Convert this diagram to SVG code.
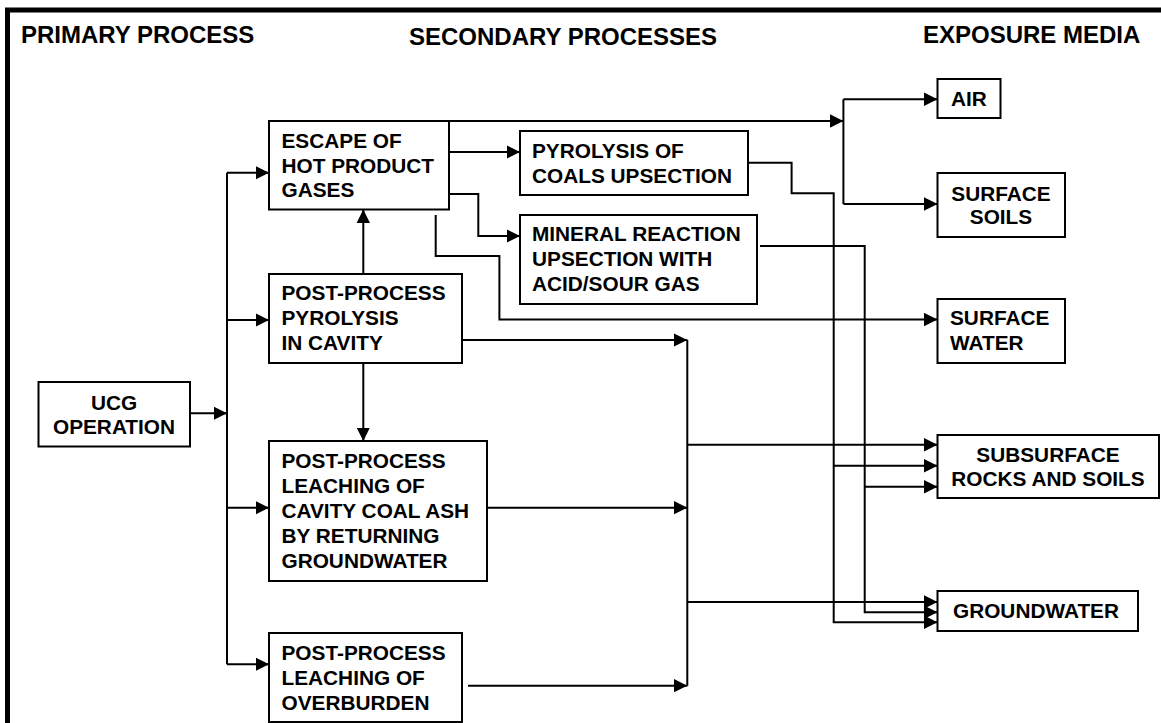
<svg xmlns="http://www.w3.org/2000/svg" width="1161" height="723" viewBox="0 0 1161 723">
<style>
.box{fill:#fff;stroke:#000;stroke-width:2}
.t{font-family:"Liberation Sans",Arial,sans-serif;font-weight:bold;font-size:20.8px;fill:#000}
.h{font-family:"Liberation Sans",Arial,sans-serif;font-weight:bold;font-size:24px;fill:#000}
.c{text-anchor:middle}
.ln{fill:none;stroke:#000;stroke-width:2}
.ar{fill:none;stroke:#000;stroke-width:2;marker-end:url(#ah)}
</style>
<defs>
<marker id="ah" markerUnits="userSpaceOnUse" markerWidth="14" markerHeight="14" refX="13.5" refY="7" orient="auto">
<path d="M0,0.3 L13.5,7 L0,13.7 z" fill="#000"/>
</marker>
</defs>
<rect width="1161" height="723" fill="#fff"/>
<path d="M7.5,723 V10 H1161" fill="none" stroke="#000" stroke-width="5"/>
<g id="titles">
<text class="h" x="21" y="43.3">PRIMARY PROCESS</text>
<text class="h" x="409" y="45">SECONDARY PROCESSES</text>
<text class="h" x="923" y="43">EXPOSURE MEDIA</text>
</g>
<g id="connectors">
<path class="ar" d="M184,413.3 H227"/>
<path class="ln" d="M227,172.7 V664.3"/>
<path class="ar" d="M227,172.7 H269"/>
<path class="ar" d="M227,320 H269"/>
<path class="ar" d="M227,507.7 H269"/>
<path class="ar" d="M227,664.3 H269"/>
<path class="ar" d="M363.3,274 V209.5"/>
<path class="ar" d="M363.3,363 V441"/>
<path class="ar" d="M449,121 H843.4"/>
<path class="ln" d="M843.4,99.3 V204"/>
<path class="ar" d="M843.4,99.3 H937.5"/>
<path class="ar" d="M843.4,204 H937.5"/>
<path class="ar" d="M447,152 H520"/>
<path class="ar" d="M447,194 H478.3 V236 H520"/>
<path class="ar" d="M435.7,215 V256 H499.4 V319.5 H937.5"/>
<path class="ar" d="M749,162.7 H791.6 V193.3 H833.7 V622.3 H937.5"/>
<path class="ar" d="M833.7,465.7 H937.5"/>
<path class="ar" d="M760,246 H864.7 V612.3 H937.5"/>
<path class="ar" d="M864.7,486.7 H937.5"/>
<path class="ar" d="M457.6,340 H687.3"/>
<path class="ln" d="M687.3,340 V685.7"/>
<path class="ar" d="M487,507.7 H687.3"/>
<path class="ar" d="M468,685.7 H687.3"/>
<path class="ar" d="M687.3,444.7 H937.5"/>
<path class="ar" d="M687.3,602 H937.5"/>
</g>
<g id="ucg">
<rect class="box" x="38.5" y="382" width="151.5" height="64.5"/>
<text class="t c" x="114" y="410">UCG</text>
<text class="t c" x="114" y="434">OPERATION</text>
</g>
<g id="escape">
<rect class="box" x="269" y="121" width="180" height="88.5"/>
<text class="t" x="281.5" y="148">ESCAPE OF</text>
<text class="t" x="281.5" y="172.5">HOT PRODUCT</text>
<text class="t" x="281.5" y="197">GASES</text>
</g>
<g id="pyrolysis-coals">
<rect class="box" x="520" y="131" width="228" height="64"/>
<text class="t" x="532" y="158">PYROLYSIS OF</text>
<text class="t" x="532" y="183">COALS UPSECTION</text>
</g>
<g id="mineral">
<rect class="box" x="520" y="215" width="237" height="89"/>
<text class="t" x="532" y="241">MINERAL REACTION</text>
<text class="t" x="532" y="266">UPSECTION WITH</text>
<text class="t" x="532" y="291">ACID/SOUR GAS</text>
</g>
<g id="post-pyrolysis">
<rect class="box" x="269" y="274" width="193" height="89"/>
<text class="t" x="281.5" y="300">POST-PROCESS</text>
<text class="t" x="281.5" y="325">PYROLYSIS</text>
<text class="t" x="281.5" y="350">IN CAVITY</text>
</g>
<g id="leaching-ash">
<rect class="box" x="269" y="441" width="218" height="140"/>
<text class="t" x="281.5" y="468">POST-PROCESS</text>
<text class="t" x="281.5" y="493">LEACHING OF</text>
<text class="t" x="281.5" y="518">CAVITY COAL ASH</text>
<text class="t" x="281.5" y="543">BY RETURNING</text>
<text class="t" x="281.5" y="568">GROUNDWATER</text>
</g>
<g id="leaching-overburden">
<rect class="box" x="269" y="633" width="193" height="89"/>
<text class="t" x="281.5" y="660">POST-PROCESS</text>
<text class="t" x="281.5" y="685">LEACHING OF</text>
<text class="t" x="281.5" y="710">OVERBURDEN</text>
</g>
<g id="air">
<rect class="box" x="937.5" y="79" width="63" height="39"/>
<text class="t" x="951" y="106">AIR</text>
</g>
<g id="surface-soils">
<rect class="box" x="937.5" y="173" width="127.5" height="64"/>
<text class="t c" x="1001" y="201">SURFACE</text>
<text class="t c" x="1001" y="224">SOILS</text>
</g>
<g id="surface-water">
<rect class="box" x="937.5" y="299" width="127.5" height="64"/>
<text class="t" x="950" y="325">SURFACE</text>
<text class="t" x="950" y="350">WATER</text>
</g>
<g id="subsurface">
<rect class="box" x="937.5" y="435" width="221.5" height="63"/>
<text class="t c" x="1048" y="462">SUBSURFACE</text>
<text class="t c" x="1048" y="486">ROCKS AND SOILS</text>
</g>
<g id="groundwater">
<rect class="box" x="937.5" y="591" width="200.5" height="40"/>
<text class="t c" x="1036" y="618">GROUNDWATER</text>
</g>
</svg>
